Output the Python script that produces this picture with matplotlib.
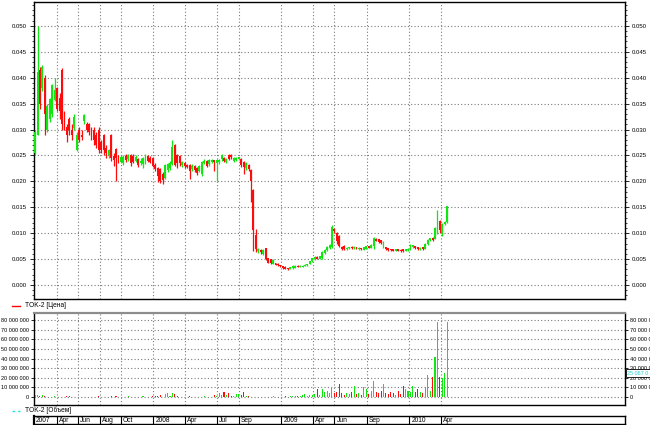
import numpy as np, pandas as pd
import matplotlib; matplotlib.use("Agg")
import matplotlib.pyplot as plt
import matplotlib.dates as mdates
from matplotlib.lines import Line2D
from matplotlib.ticker import MultipleLocator, FuncFormatter

plt.rcParams["font.family"] = ["Liberation Sans Narrow", "Liberation Sans", "DejaVu Sans"]

# weekly candles TOK-2, from 2007-01-29
opens = [.0255,.0290,.0415,.0380,.0400,.0300,.0320,.0330,.0357,.0380,.0360,.0415,.0330,.0305,.0320,.0300,.0303,.0260,.0300,.0290,
         .0316,.0310,.0310,.0300,.0300,.0290,.0300,.0275,.0289,.0265,.0250,.0290,.0248,.0262,.0245,.0238,.0236,.0248,.0243,.0250,
         .0248,.0240,.0243,.0235,.0233,.0235,.0248,.0245,.0245,.0232,.0226,.0224,.0215,.0207,.0222,.0226,.0234,.0270,.0250,.0248,
         .0231,.0235,.0232,.0231,.0223,.0230,.0226,.0220,.0215,.0236,.0239,.0233,.0238,.0240,.0236,.0237,.0243,.0245,.0238,.0250,
         .0251,.0240,.0242,.0244,.0243,.0238,.0225,.0232,.0222,.0183,.0097,.0065,.0068,.0060,.0071,.0052,.0050,.0041,.0042,.0041,
         .0038,.0036,.0035,.0032,.0031,.0032,.0033,.0037,.0035,.0035,.0037,.0038,.0041,.0046,.0050,.0054,.0051,.0052,.0062,.0068,
         .0072,.0073,.0108,.0100,.0095,.0074,.0076,.0069,.0071,.0074,.0071,.0073,.0069,.0071,.0068,.0070,.0074,.0072,.0076,.0089,
         .0088,.0086,.0073,.0073,.0070,.0069,.0068,.0066,.0068,.0068,.0067,.0066,.0067,.0068,.0074,.0075,.0073,.0069,.0073,.0070,
         .0080,.0086,.0091,.0089,.0100,.0124,.0103,.0117,.0121]
closes = [.0295,.0410,.0350,.0420,.0330,.0345,.0358,.0385,.0376,.0340,.0335,.0310,.0305,.0290,.0300,.0290,.0325,.0290,.0280,.0285,
          .0328,.0300,.0295,.0285,.0280,.0270,.0260,.0260,.0260,.0255,.0260,.0245,.0242,.0245,.0240,.0246,.0247,.0242,.0250,.0235,
          .0238,.0246,.0231,.0240,.0245,.0250,.0240,.0238,.0230,.0224,.0211,.0200,.0202,.0232,.0234,.0236,.0266,.0232,.0236,.0235,
          .0238,.0229,.0228,.0219,.0230,.0222,.0216,.0230,.0238,.0240,.0230,.0242,.0241,.0238,.0241,.0242,.0250,.0240,.0243,.0244,
          .0246,.0245,.0245,.0246,.0231,.0228,.0236,.0224,.0200,.0106,.0069,.0070,.0064,.0068,.0050,.0043,.0042,.0049,.0039,.0038,
          .0036,.0032,.0031,.0030,.0034,.0037,.0037,.0035,.0037,.0037,.0039,.0040,.0046,.0052,.0054,.0051,.0055,.0064,.0068,.0074,
          .0077,.0112,.0104,.0084,.0075,.0070,.0070,.0072,.0073,.0071,.0074,.0070,.0072,.0069,.0073,.0075,.0072,.0078,.0091,.0085,
          .0083,.0081,.0083,.0069,.0068,.0067,.0066,.0068,.0066,.0065,.0066,.0068,.0070,.0078,.0077,.0072,.0070,.0072,.0070,.0080,
          .0086,.0090,.0086,.0110,.0138,.0107,.0118,.0122,.0152]
highs = [.0300,.0500,.0420,.0425,.0405,.0350,.0360,.0388,.0400,.0382,.0370,.0418,.0335,.0310,.0325,.0310,.0330,.0295,.0305,.0300,
         .0330,.0315,.0312,.0305,.0305,.0295,.0305,.0280,.0292,.0270,.0262,.0292,.0255,.0265,.0250,.0250,.0250,.0252,.0253,.0252,
         .0252,.0250,.0245,.0245,.0247,.0252,.0250,.0248,.0247,.0235,.0228,.0226,.0218,.0234,.0236,.0240,.0280,.0272,.0252,.0250,
         .0240,.0237,.0234,.0233,.0233,.0232,.0228,.0232,.0240,.0243,.0242,.0244,.0243,.0242,.0243,.0244,.0252,.0247,.0245,.0252,
         .0253,.0247,.0246,.0247,.0245,.0240,.0238,.0234,.0224,.0185,.0108,.0072,.0070,.0070,.0072,.0053,.0051,.0050,.0043,.0042,
         .0039,.0037,.0036,.0033,.0035,.0038,.0038,.0038,.0038,.0038,.0040,.0041,.0047,.0053,.0055,.0055,.0056,.0065,.0069,.0075,
         .0079,.0115,.0110,.0102,.0097,.0076,.0077,.0073,.0074,.0075,.0075,.0074,.0073,.0072,.0074,.0076,.0076,.0080,.0093,.0090,
         .0089,.0087,.0085,.0074,.0071,.0070,.0069,.0069,.0069,.0069,.0068,.0069,.0071,.0079,.0078,.0076,.0074,.0073,.0074,.0081,
         .0088,.0091,.0092,.0112,.0145,.0125,.0120,.0124,.0153]
lows = [.0250,.0290,.0340,.0375,.0290,.0295,.0315,.0325,.0355,.0335,.0320,.0300,.0300,.0275,.0290,.0280,.0300,.0258,.0276,.0280,
        .0310,.0295,.0290,.0280,.0270,.0265,.0255,.0255,.0250,.0245,.0245,.0240,.0230,.0200,.0235,.0235,.0232,.0238,.0240,.0230,
        .0235,.0238,.0228,.0232,.0225,.0233,.0238,.0235,.0228,.0220,.0198,.0196,.0194,.0205,.0218,.0222,.0232,.0230,.0225,.0230,
        .0228,.0226,.0225,.0205,.0220,.0218,.0212,.0218,.0210,.0233,.0228,.0230,.0236,.0220,.0200,.0234,.0240,.0238,.0236,.0242,
        .0244,.0238,.0240,.0242,.0228,.0215,.0222,.0220,.0160,.0066,.0064,.0062,.0060,.0058,.0048,.0042,.0041,.0040,.0038,.0037,
        .0035,.0031,.0030,.0029,.0030,.0031,.0032,.0034,.0034,.0034,.0036,.0037,.0040,.0045,.0049,.0050,.0050,.0051,.0060,.0066,
        .0070,.0072,.0100,.0080,.0073,.0068,.0068,.0068,.0070,.0070,.0070,.0069,.0068,.0068,.0067,.0069,.0071,.0071,.0069,.0084,
        .0081,.0079,.0071,.0067,.0066,.0066,.0065,.0065,.0065,.0064,.0064,.0065,.0066,.0067,.0072,.0070,.0068,.0068,.0068,.0069,
        .0078,.0084,.0084,.0088,.0098,.0100,.0095,.0115,.0120]
volumes = [2.2,2.0,0.6,1.8,0.7,0.4,0.5,0.3,0.6,0.3,0.4,0.5,0.3,0.6,0.8,0.4,0.3,0.2,0.5,0.3,
           0.3,0.4,0.2,0.3,0.5,0.4,1.0,0.3,0.5,0.2,0.3,1.2,0.4,0.8,0.3,0.5,0.2,0.4,0.6,0.3,
           0.5,0.4,0.3,0.2,0.6,0.4,0.3,0.5,0.8,1.5,0.6,1.8,0.4,3.5,3.8,1.2,3.8,3.0,0.8,0.4,
           0.5,0.3,0.4,0.6,0.3,0.2,0.5,0.4,0.3,0.6,0.4,0.5,0.3,2.0,1.5,3.8,2.5,5.5,1.8,4.5,
           1.5,0.8,3.0,3.5,1.8,5.0,1.2,0.6,0.4,0.3,0.5,0.4,0.3,0.2,0.5,0.4,0.3,0.6,0.4,0.3,
           0.5,0.4,1.0,0.5,0.8,1.5,0.6,1.2,0.8,2.0,3.0,1.5,2.5,2.0,3.5,8.0,2.0,8.0,5.5,6.0,
           4.0,9.5,4.0,5.0,13.5,4.5,2.0,4.0,3.0,5.0,11.5,3.0,4.0,2.5,10.8,8.0,3.0,6.0,16.7,5.5,
           4.0,6.0,13.5,4.5,3.0,5.0,4.5,2.0,6.0,3.0,11.5,8.0,6.0,5.5,11.5,5.0,8.0,5.5,4.0,10.0,
           23.0,6.0,21.0,42.0,78.0,21.0,20.0,25.0,78.0]
vol_last = "25 067 0"

month_lines = ["2007-04-01","2007-06-01","2007-08-01","2007-10-01","2008-01-01","2008-04-01","2008-07-01",
               "2008-09-01","2009-01-01","2009-04-01","2009-06-01","2009-09-01","2010-01-01","2010-04-01"]
date_labels = ["2007","Apr","Jun","Aug","Oct","2008","Apr","Jul","Sep","2009","Apr","Jun","Sep","2010","Apr"]

o=np.array(opens); c=np.array(closes); h=np.array(highs); l=np.array(lows); v=np.array(volumes)*1e6
x = mdates.date2num(pd.date_range("2007-01-29", periods=len(o), freq="7D"))
up = c >= o
GREEN, RED = "#11e611", "#ff0b0b"
cols = np.where(up, GREEN, RED)
xl = (mdates.date2num(pd.Timestamp("2007-01-26")), mdates.date2num(pd.Timestamp("2011-09-08")))
mx = mdates.date2num(pd.to_datetime(month_lines))
GRID = dict(color="#7a7a7a", linestyle=(0, (1, 2)), linewidth=0.8)
FS = 4.3

W, H = 650, 425
fig = plt.figure(figsize=(6.5, 4.25), dpi=100)
def box(l_, t_, r_, b_): return [l_/W, 1-b_/H, (r_-l_)/W, (b_-t_)/H]

# price panel
ax = fig.add_axes(box(34, 2, 625, 299))
ax.vlines(x, l, h, color=cols, lw=0.9, zorder=3)
ax.bar(x, np.maximum(np.abs(c-o), 0.00025), bottom=np.minimum(o, c), width=5.5, color=cols, zorder=4, linewidth=0)
ax.set_xlim(*xl); ax.set_ylim(-0.0027, 0.0546)
ax.yaxis.set_major_locator(MultipleLocator(0.005)); ax.yaxis.set_minor_locator(MultipleLocator(0.001))
ax.yaxis.set_major_formatter(FuncFormatter(lambda t, p: f"{t:.3f}"))
ax.set_xticks(mx); ax.set_xticklabels([])
ax.tick_params(axis="x", length=0)
ax.tick_params(axis="y", which="both", left=True, right=True, labelleft=True, labelright=True,
               labelsize=FS, pad=2, direction="out")
ax.tick_params(axis="y", which="major", length=3, width=0.6)
ax.tick_params(axis="y", which="minor", length=1.5, width=0.5)
ax.grid(True, which="major", **GRID)
for s in ax.spines.values(): s.set_linewidth(1.0); s.set_color("black")

# volume panel
av = fig.add_axes(box(34, 313, 625, 405))
av.bar(x, v, width=3.0, color=cols, linewidth=0, zorder=3)
av.set_xlim(*xl); av.set_ylim(-8.3e6, 87.5e6)
av.yaxis.set_major_locator(MultipleLocator(10e6))
av.yaxis.set_major_formatter(FuncFormatter(lambda t, p: f"{int(round(t)):,}".replace(",", " ")))
av.set_xticks(mx); av.set_xticklabels([])
av.tick_params(axis="x", length=0)
av.tick_params(axis="y", left=True, right=True, labelleft=True, labelright=True, labelsize=4.0,
               pad=1, length=2.5, width=0.6, direction="out")
av.grid(True, **GRID)
for s in av.spines.values(): s.set_linewidth(1.0); s.set_color("black")
av.spines["top"].set_color("#8c8c8c"); av.spines["top"].set_linewidth(1.6)
av.text(1.004, (25e6 + 8.3e6) / 95.8e6, vol_last, transform=av.transAxes, fontsize=4.0, color="#22cccc",
        va="center", ha="left", bbox=dict(boxstyle="square,pad=0.25", fc="white", ec="black", lw=0.6), clip_on=False)

# legends
fig.add_artist(Line2D([12/W, 20/W], [1-305.5/H]*2, color="red", lw=1))
fig.text(25/W, 1-305.5/H, "TOK-2 [Цена]", fontsize=4.8, va="center", ha="left")
fig.add_artist(Line2D([12/W, 20/W], [1-410.5/H]*2, color="#33dddd", lw=1, linestyle=(0, (2, 2))))
fig.text(25/W, 1-410.5/H, "TOK-2 [Объем]", fontsize=4.8, va="center", ha="left")

# date bar
ad = fig.add_axes(box(34, 416, 625, 424))
ad.set_xlim(*xl); ad.set_ylim(0, 1)
ad.set_xticks([]); ad.set_yticks([])
for s in ad.spines.values(): s.set_linewidth(1.0); s.set_color("black")
ad.spines["left"].set_linewidth(1.6)
ad.vlines(mx, 0, 1, color="black", lw=0.8)
for px, lab in zip([xl[0]] + list(mx), date_labels):
    ad.annotate(lab, (px, 0.45), xytext=(1.5, 0), textcoords="offset points", fontsize=FS+0.5, va="center", ha="left")

fig.savefig("out.png", dpi=100)
